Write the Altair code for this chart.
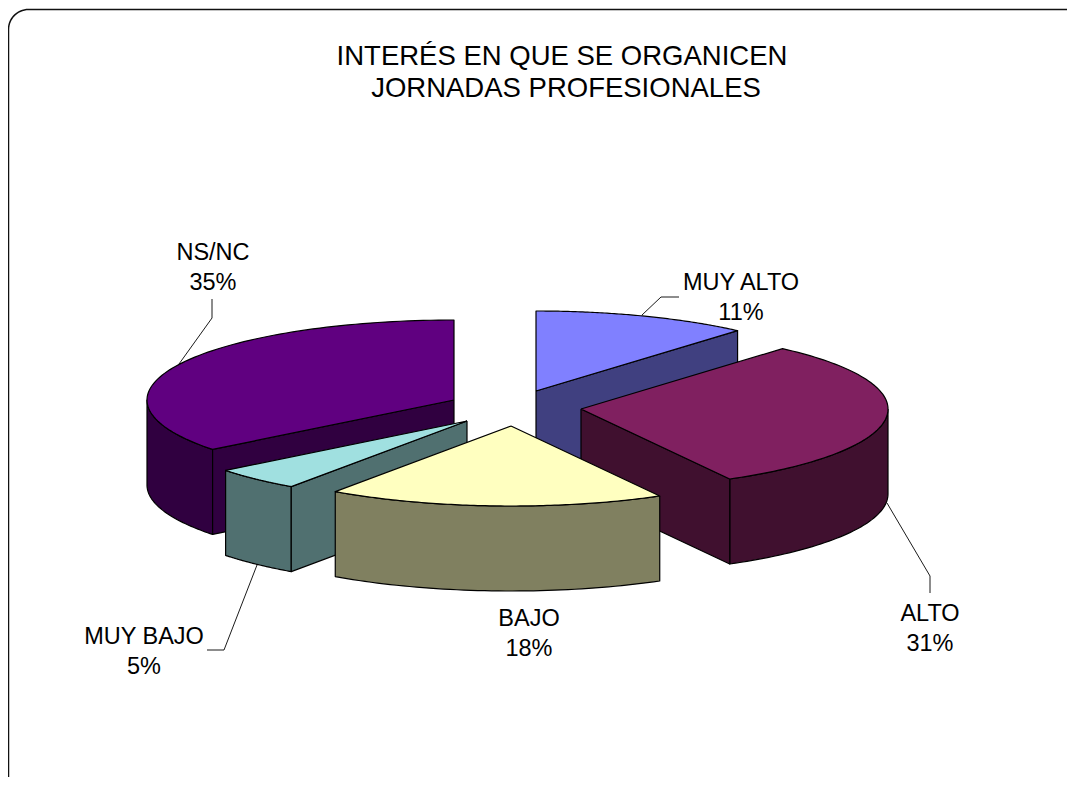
import numpy as np
import pandas as pd
import altair as alt

# --- chart values -----------------------------------------------------------
categories = ["MUY ALTO", "ALTO", "BAJO", "MUY BAJO", "NS/NC"]
shares = [11.4, 30.55, 17.75, 4.7, 35.6]          # slice sizes
pct_labels = ["11%", "31%", "18%", "5%", "35%"]
top_colors = ["#8080FF", "#802060", "#FFFFC0", "#A0E0E0", "#600080"]
side_colors = ["#404080", "#40102F", "#808060", "#507070", "#300040"]
title_lines = ["INTERÉS EN QUE SE ORGANICEN", "JORNADAS PROFESIONALES"]

# --- layout: the 3-D pie, in page pixels ------------------------------------
W, H = 1067, 777
RX, RY, DEPTH = 307, 80, 85
centers = {"MUY ALTO": (536, 391), "ALTO": (581, 409), "BAJO": (511, 426),
           "MUY BAJO": (467, 421), "NS/NC": (454, 400)}
label_xy = {"MUY ALTO": (741, 290), "ALTO": (930, 621), "BAJO": (529, 626),
            "MUY BAJO": (144, 644), "NS/NC": (213, 260)}
LINE_GAP = 30
leaders = {"MUY ALTO": [(679, 297), (661, 297), (642, 315)],
           "ALTO": [(887, 503), (930, 576), (930, 593)],
           "MUY BAJO": [(257, 565), (224, 650), (207, 650)],
           "NS/NC": [(212, 299), (212, 318), (179, 364)]}
title_xy = [(562, 65), (566, 97)]

edges = np.concatenate([[0], np.cumsum(shares)]) * 3.6
spans = {c: (edges[i], edges[i + 1]) for i, c in enumerate(categories)}
top_c = dict(zip(categories, top_colors))
side_c = dict(zip(categories, side_colors))


def rim(cat, a0, a1, n=50):
    cx, cy = centers[cat]
    t = np.radians(np.linspace(a0, a1, n))
    return list(zip(cx + RX * np.sin(t), cy - RY * np.cos(t)))


rows = []


def poly(pts, fill):
    pid = len({r["pid"] for r in rows})
    pts = list(pts) + [pts[0]]
    for i, (x, y) in enumerate(pts):
        rows.append({"pid": pid, "i": i, "x": float(x), "y": float(y), "fill": fill})


def drop(pts):
    return [(x, y + DEPTH) for x, y in pts]


def outer_side(cat, a0, a1):
    r = rim(cat, a0, a1)
    poly(r + drop(r)[::-1], side_c[cat])


def radial_side(cat, angle):
    r = [tuple(centers[cat]), rim(cat, angle, angle, 1)[0]]
    poly(r + drop(r)[::-1], side_c[cat])


def top(cat):
    a0, a1 = spans[cat]
    poly([tuple(centers[cat])] + rim(cat, a0, a1, 90), top_c[cat])


# back to front
outer_side("NS/NC", spans["NS/NC"][0], 270)
radial_side("NS/NC", spans["NS/NC"][0])
top("NS/NC")
radial_side("MUY ALTO", spans["MUY ALTO"][1])
top("MUY ALTO")
outer_side("MUY BAJO", *spans["MUY BAJO"])
radial_side("MUY BAJO", spans["MUY BAJO"][0])
top("MUY BAJO")
outer_side("ALTO", 90, spans["ALTO"][1])
radial_side("ALTO", spans["ALTO"][1])
top("ALTO")
outer_side("BAJO", *spans["BAJO"])
top("BAJO")
shapes = pd.DataFrame(rows)

# rounded frame, open towards the picture edge on the right and at the bottom
fl, ft, fr_r = 8.5, 9.5, 20
frame_pts = [(fl, H)]
t = np.radians(np.linspace(180, 90, 16))
frame_pts += [(fl + fr_r + fr_r * np.cos(a), ft + fr_r - fr_r * np.sin(a)) for a in t]
frame_pts += [(W, ft)]
frame = pd.DataFrame([{"i": i, "x": x, "y": y} for i, (x, y) in enumerate(frame_pts)])

lead_rows = [{"cat": c, "i": i, "x": x, "y": y}
             for c, pts in leaders.items() for i, (x, y) in enumerate(pts)]
leader_df = pd.DataFrame(lead_rows)

text_rows = []
for c, p in zip(categories, pct_labels):
    x, y = label_xy[c]
    text_rows.append({"x": x, "y": y, "t": c})
    text_rows.append({"x": x, "y": y + LINE_GAP, "t": p})
labels_df = pd.DataFrame(text_rows)
title_df = pd.DataFrame([{"x": x, "y": y, "t": s} for (x, y), s in zip(title_xy, title_lines)])

# --- chart ------------------------------------------------------------------
X = alt.X("x:Q", axis=None, scale=alt.Scale(domain=[8, W], nice=False, zero=False))
Y = alt.Y("y:Q", axis=None, scale=alt.Scale(domain=[8, H], nice=False, zero=False, reverse=True))

frame_layer = alt.Chart(frame).mark_line(stroke="#111111", strokeWidth=1.5).encode(x=X, y=Y, order="i:Q")
shape_layer = alt.Chart(shapes).mark_line(stroke="#000000", strokeWidth=1.2, strokeJoin="round").encode(
    x=X, y=Y, order="i:Q", detail="pid:N", fill=alt.Fill("fill:N", scale=None))
leader_layer = alt.Chart(leader_df).mark_line(stroke="#000000", strokeWidth=0.9).encode(
    x=X, y=Y, order="i:Q", detail="cat:N")
label_layer = alt.Chart(labels_df).mark_text(
    font="Liberation Sans", fontSize=23.5, color="#000000", align="center", baseline="alphabetic"
).encode(x=X, y=Y, text="t:N")
title_layer = alt.Chart(title_df).mark_text(
    font="Liberation Sans", fontSize=27.5, color="#000000", align="center", baseline="alphabetic"
).encode(x=X, y=Y, text="t:N")

chart = alt.layer(frame_layer, shape_layer, leader_layer, label_layer, title_layer).properties(
    width=W - 8, height=H - 8, padding=0, background="#ffffff",
    autosize=alt.AutoSizeParams(type="none"),
).configure_view(stroke=None)

chart.save("out.html", embed_options={"renderer": "svg", "actions": False})
